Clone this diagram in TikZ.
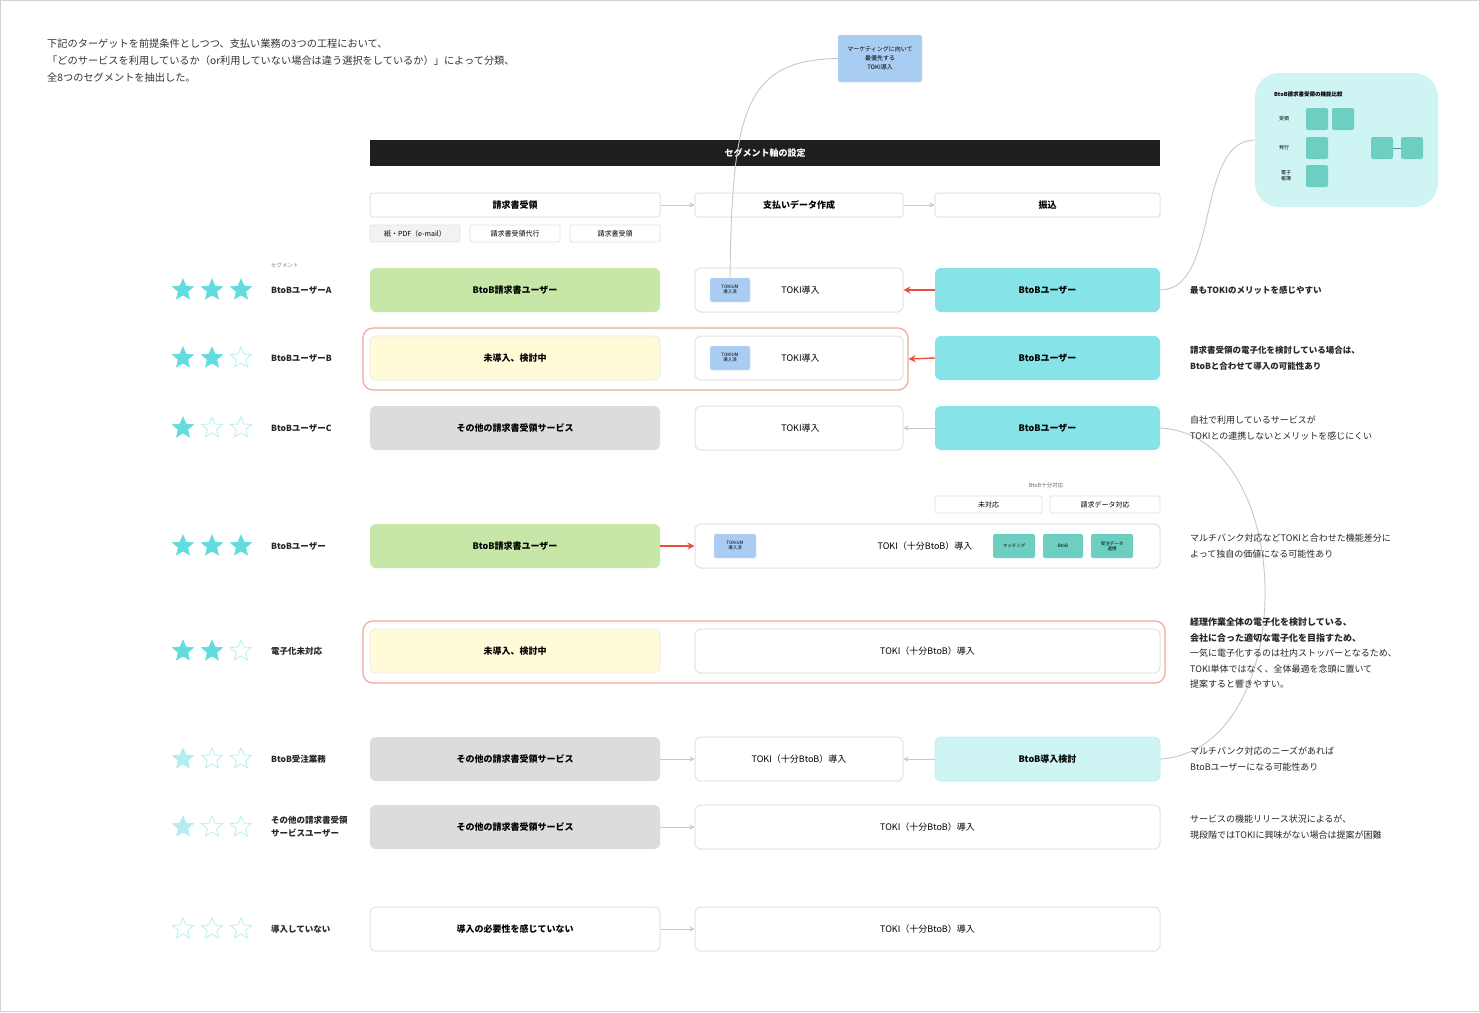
\documentclass[tikz,border=0pt]{standalone}
\usepackage{fontspec}
\setmainfont{Noto Sans CJK JP}
\usetikzlibrary{shapes.geometric,arrows.meta}
\definecolor{tealfull}{HTML}{63DCE0}
\definecolor{tealpale}{HTML}{B2EEF0}
\definecolor{tealline}{HTML}{BFEFF1}
\definecolor{boxline}{HTML}{E2E2E2}
\definecolor{greenbox}{HTML}{C6E7A8}
\definecolor{yellowbox}{HTML}{FFFBD9}
\definecolor{graybox}{HTML}{DCDCDC}
\definecolor{cyanbox}{HTML}{86E3E8}
\definecolor{cyanpale}{HTML}{CFF4F4}
\definecolor{bluenote}{HTML}{A9CCF3}
\definecolor{tealsq}{HTML}{6CCFC2}
\definecolor{redline}{HTML}{F4A79D}
\definecolor{redarrow}{HTML}{E9513E}
\definecolor{linegray}{HTML}{C8C8C8}
\begin{document}
\begin{tikzpicture}[x=1pt,y=-1pt,
  basebox/.style={rounded corners=6pt, minimum height=44pt, inner sep=0pt, font=\bfseries\fontsize{9}{11}\selectfont},
  wbox/.style={basebox, draw=boxline, line width=1pt, fill=white},
  lbox/.style={basebox, minimum width=290pt},
  mbox/.style={wbox, minimum width=208pt, font=\fontsize{9}{11}\selectfont},
  widebox/.style={wbox, minimum width=465pt, font=\fontsize{9}{11}\selectfont},
  rbox/.style={basebox, minimum width=225pt},
  hbox/.style={rounded corners=3pt, draw=boxline, line width=1pt, fill=white, minimum height=24pt, inner sep=0pt, font=\bfseries\fontsize{9}{11}\selectfont},
  subbox/.style={rounded corners=2pt, draw=boxline, line width=0.8pt, fill=white, minimum height=17pt, minimum width=90pt, inner sep=0pt, font=\fontsize{7}{8}\selectfont},
  fullstar/.style={star, star points=5, star point ratio=2.2, minimum size=22pt, inner sep=0pt, fill=tealfull, draw=tealfull, line width=0.6pt},
  palestar/.style={fullstar, fill=tealpale, draw=tealpale},
  emptystar/.style={fullstar, fill=white, draw=tealline, line width=0.9pt},
  rowlabel/.style={anchor=west, inner sep=0pt, font=\bfseries\fontsize{8.5}{11}\selectfont, align=left, text=black!85},
  note/.style={anchor=west, inner sep=0pt, font=\fontsize{9}{15.5}\selectfont, align=left, text=black!85},
  boldnote/.style={note, font=\bfseries\fontsize{8.5}{15.5}\selectfont},
  sticky/.style={fill=bluenote, draw=bluenote!80!black!30, rounded corners=2pt, minimum width=40pt, minimum height=24pt, inner sep=0pt, font=\fontsize{4.5}{5}\selectfont, align=center},
  sq/.style={fill=tealsq, rounded corners=2pt, minimum width=22pt, minimum height=22pt, inner sep=0pt, font=\fontsize{4.5}{5}\selectfont, align=center},
  conn/.style={draw=linegray, line width=0.9pt},
  gtip/.style={conn, -{Stealth[length=5pt,width=5pt]}},
  rtip/.style={draw=redarrow, line width=1.4pt, -{Stealth[length=7pt,width=7pt]}},
  redgroup/.style={draw=redline, line width=1.2pt, rounded corners=10pt, fill=none}
]
% frame
\draw[draw=gray!35, fill=white, line width=1pt] (0.5,0.5) rectangle (1479.5,1011.5);
\useasboundingbox (0,0) rectangle (1480,1012);

% intro text
\node[anchor=north west, inner sep=0pt, font=\fontsize{10.2}{17}\selectfont, align=left, text=black!80] (intro) at (47,39)
 {下記のターゲットを前提条件としつつ、支払い業務の3つの工程において、\\
  「どのサービスを利用しているか（or利用していない場合は違う選択をしているか）」によって分類、\\
  全8つのセグメントを抽出した。};

% top blue note
\node[sticky, minimum width=84pt, minimum height=47pt, font=\fontsize{6}{9}\selectfont] (topnote) at (880,58.5)
 {マーケティングに向いて\\最優先する\\TOKI導入};

% header bar
\node[fill=black!88, minimum width=790pt, minimum height=26pt, inner sep=0pt, text=white, font=\bfseries\fontsize{9}{11}\selectfont] (hdr) at (765,153) {セグメント軸の設定};

% header boxes
\node[hbox, minimum width=290pt] (h1) at (515,205) {請求書受領};
\node[hbox, minimum width=208pt] (h2) at (799,205) {支払いデータ作成};
\node[hbox, minimum width=225pt] (h3) at (1047.5,205) {振込};
\draw[gtip] (h1.east) -- (h2.west);
\draw[gtip] (h2.east) -- (h3.west);
\node[subbox, fill=black!5] (sb1) at (415,233.5) {紙・PDF（e-mail）};
\node[subbox] (sb2) at (515,233.5) {請求書受領代行};
\node[subbox] (sb3) at (615,233.5) {請求書受領};

\node[anchor=west, inner sep=0pt, font=\fontsize{5.5}{6}\selectfont, text=black!50] (seglab) at (271,265) {セグメント};

% red group outlines
\node[redgroup, minimum width=545pt, minimum height=62pt] (grp2) at (635.5,359) {};
\node[redgroup, minimum width=802pt, minimum height=62pt] (grp5) at (764,652) {};

% ---------- stars ----------
\node[fullstar] (s11) at (183,290) {}; \node[fullstar] (s12) at (212,290) {}; \node[fullstar] (s13) at (241,290) {};
\node[fullstar] (s21) at (183,358) {}; \node[fullstar] (s22) at (212,358) {}; \node[emptystar] (s23) at (241,358) {};
\node[fullstar] (s31) at (183,428) {}; \node[emptystar] (s32) at (212,428) {}; \node[emptystar] (s33) at (241,428) {};
\node[fullstar] (s41) at (183,546) {}; \node[fullstar] (s42) at (212,546) {}; \node[fullstar] (s43) at (241,546) {};
\node[fullstar] (s51) at (183,651) {}; \node[fullstar] (s52) at (212,651) {}; \node[emptystar] (s53) at (241,651) {};
\node[palestar] (s61) at (183,759) {}; \node[emptystar] (s62) at (212,759) {}; \node[emptystar] (s63) at (241,759) {};
\node[palestar] (s71) at (183,827) {}; \node[emptystar] (s72) at (212,827) {}; \node[emptystar] (s73) at (241,827) {};
\node[emptystar] (s81) at (183,929) {}; \node[emptystar] (s82) at (212,929) {}; \node[emptystar] (s83) at (241,929) {};

% ---------- row labels ----------
\node[rowlabel] (l1) at (271,290) {BtoBユーザーA};
\node[rowlabel] (l2) at (271,358) {BtoBユーザーB};
\node[rowlabel] (l3) at (271,428) {BtoBユーザーC};
\node[rowlabel] (l4) at (271,546) {BtoBユーザー};
\node[rowlabel] (l5) at (271,651) {電子化未対応};
\node[rowlabel] (l6) at (271,759) {BtoB受注業務};
\node[rowlabel, font=\bfseries\fontsize{8.5}{13}\selectfont] (l7) at (271,827) {その他の請求書受領\\サービスユーザー};
\node[rowlabel] (l8) at (271,929) {導入していない};

% ---------- left column ----------
\node[lbox, fill=greenbox] (a1) at (515,290) {BtoB請求書ユーザー};
\node[lbox, fill=yellowbox, draw=black!8, line width=0.8pt] (a2) at (515,358) {未導入、検討中};
\node[lbox, fill=graybox] (a3) at (515,428) {その他の請求書受領サービス};
\node[lbox, fill=greenbox] (a4) at (515,546) {BtoB請求書ユーザー};
\node[lbox, fill=yellowbox, draw=black!8, line width=0.8pt] (a5) at (515,651) {未導入、検討中};
\node[lbox, fill=graybox] (a6) at (515,759) {その他の請求書受領サービス};
\node[lbox, fill=graybox] (a7) at (515,827) {その他の請求書受領サービス};
\node[lbox, wbox] (a8) at (515,929) {導入の必要性を感じていない};

% ---------- middle column ----------
\node[mbox] (b1) at (799,290) {\hspace*{3pt}TOKI導入};
\node[mbox] (b2) at (799,358) {\hspace*{3pt}TOKI導入};
\node[mbox] (b3) at (799,428) {\hspace*{3pt}TOKI導入};
\node[widebox] (b4) at (927.5,546) {};
\node[anchor=center, inner sep=0pt, font=\fontsize{9}{11}\selectfont] (b4t) at (925,546) {TOKI（十分BtoB）導入};
\node[widebox] (b5) at (927.5,651) {TOKI（十分BtoB）導入};
\node[mbox] (b6) at (799,759) {TOKI（十分BtoB）導入};
\node[widebox] (b7) at (927.5,827) {TOKI（十分BtoB）導入};
\node[widebox] (b8) at (927.5,929) {TOKI（十分BtoB）導入};

% stickies in middle column
\node[sticky] (st1) at (730,290) {TOKIUM\\導入済};
\node[sticky] (st2) at (730,358) {TOKIUM\\導入済};
\node[sticky, minimum width=42pt] (st4) at (735,546) {TOKIUM\\導入済};

% teal squares in row 4
\node[sq, minimum width=42pt, minimum height=24pt] (q1) at (1014,546) {マッチング};
\node[sq, minimum width=40pt, minimum height=24pt] (q2) at (1063,546) {BtoB};
\node[sq, minimum width=42pt, minimum height=24pt] (q3) at (1112,546) {受注データ\\連携};

% BtoB support labels above row 4
\node[inner sep=0pt, font=\fontsize{5.5}{6}\selectfont, text=black!60] (bt) at (1046,485) {BtoB十分対応};
\node[subbox, minimum width=107pt] (t1) at (988.5,504.5) {未対応};
\node[subbox, minimum width=110pt] (t2) at (1105,504.5) {請求データ対応};

% ---------- right column ----------
\node[rbox, fill=cyanbox] (c1) at (1047.5,290) {BtoBユーザー};
\node[rbox, fill=cyanbox] (c2) at (1047.5,358) {BtoBユーザー};
\node[rbox, fill=cyanbox] (c3) at (1047.5,428) {BtoBユーザー};
\node[rbox, fill=cyanpale, draw=tealline, line width=0.8pt] (c6) at (1047.5,759) {BtoB導入検討};

% ---------- connectors ----------
\draw[rtip] (c1.west) -- (b1.east);
\draw[rtip] (c2.west) -- (grp2.east);
\draw[gtip] (c3.west) -- (b3.east);
\draw[rtip] (a4.east) -- (b4.west);
\draw[gtip] (a6.east) -- (b6.west);
\draw[gtip] (c6.west) -- (b6.east);
\draw[gtip] (a7.east) -- (b7.west);
\draw[gtip] (a8.east) -- (b8.west);

% ---------- teal panel ----------
\node[fill=cyanpale, rounded corners=24pt, minimum width=183pt, minimum height=134pt, inner sep=0pt] (panel) at (1346.5,140) {};
\node[anchor=west, inner sep=0pt, font=\bfseries\fontsize{5.5}{6}\selectfont] (ptitle) at (1274,94) {BtoB請求書受領の機能比較};
\node[inner sep=0pt, font=\fontsize{5}{6}\selectfont] (pl1) at (1284,119) {受領};
\node[inner sep=0pt, font=\fontsize{5}{6}\selectfont] (pl2) at (1284,148) {発行};
\node[inner sep=0pt, font=\fontsize{5}{6}\selectfont, align=center] (pl3) at (1286,176) {電子\\帳簿};
\node[sq] (p1) at (1317,119) {};
\node[sq] (p2) at (1343,119) {};
\node[sq] (p3) at (1317,148) {};
\node[sq] (p4) at (1317,176) {};
\node[sq] (p5) at (1382,148) {};
\node[sq] (p6) at (1412,148) {};
\draw[draw=tealsq!70!black, line width=0.5pt] (p5.east) -- (p6.west);

% curves
\draw[conn] (topnote.west) .. controls (745,60) and (732,110) .. (st1.north);
\draw[conn] (c1.east) .. controls (1220,290) and (1195,140) .. (panel.west);
\draw[conn] (c3.east) .. controls (1300,436) and (1300,750) .. (c6.east);

% ---------- right notes ----------
\node[boldnote] (n1) at (1190,290) {最もTOKIのメリットを感じやすい};
\node[boldnote] (n2) at (1190,358) {請求書受領の電子化を検討している場合は、\\BtoBと合わせて導入の可能性あり};
\node[note] (n3) at (1190,428) {自社で利用しているサービスが\\TOKIとの連携しないとメリットを感じにくい};
\node[note] (n4) at (1190,546) {マルチバンク対応などTOKIと合わせた機能差分に\\よって独自の価値になる可能性あり};
\node[note] (n5) at (1190,653) {\textbf{経理作業全体の電子化を検討している、}\\\textbf{会社に合った適切な電子化を目指すため、}\\一気に電子化するのは社内ストッパーとなるため、\\TOKI単体ではなく、全体最適を念頭に置いて\\提案すると響きやすい。};
\node[note] (n6) at (1190,759) {マルチバンク対応のニーズがあれば\\BtoBユーザーになる可能性あり};
\node[note] (n7) at (1190,827) {サービスの機能リリース状況によるが、\\現段階ではTOKIに興味がない場合は提案が困難};
\end{tikzpicture}
\end{document}
